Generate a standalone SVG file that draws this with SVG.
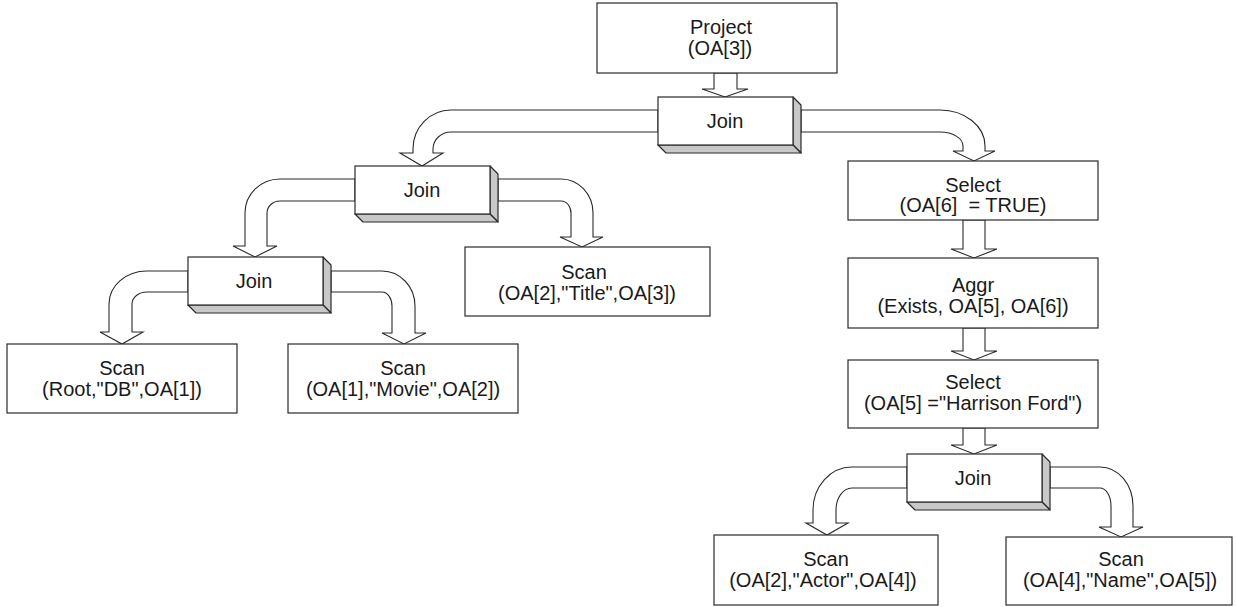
<svg xmlns="http://www.w3.org/2000/svg" width="1236" height="607" viewBox="0 0 1236 607">
<style>
.box{fill:#fff;stroke:#2a2a2a;stroke-width:1.2}
.face{fill:#c8c8c8;stroke:#2a2a2a;stroke-width:1.2;stroke-linejoin:round}
.arr{fill:#fff;stroke:#2a2a2a;stroke-width:1.1;stroke-linejoin:miter}
text{font-family:"Liberation Sans",Arial,sans-serif;font-size:20px;fill:#1a1a1a;text-anchor:middle}
</style>
<rect width="1236" height="607" fill="#fff"/>
<g id="connectors">
  <path class="arr" d="M714,73 L714,89 L702,89 L725,97 L748,89 L737,89 L737,73 Z"/>
  <path class="arr" d="M963,220 L963,249 L951,249 L974,258 L997,249 L985,249 L985,220 Z"/>
  <path class="arr" d="M963,328 L963,351 L951,351 L974,360 L997,351 L985,351 L985,328 Z"/>
  <path class="arr" d="M963,428 L963,445 L951,445 L974,454 L997,445 L985,445 L985,428 Z"/>
  <path class="arr" d="M658,110 L451,110 A38,39 0 0 0 413,149 L413,153 L400,153 L422,166 L443,153 L433,153 L433,149 A18,17 0 0 1 451,132 L658,132 Z"/>
  <path class="arr" d="M801,110 L940,110 A45,36 0 0 1 985,146 L985,151 L995,151 L974,161 L953,151 L963,151 L963,146 A23,14 0 0 0 940,132 L801,132 Z"/>
  <path class="arr" d="M355,179 L280,179 A35,34 0 0 0 245,213 L245,246 L233,246 L255,257 L277,246 L267,246 L267,213 A13,12 0 0 1 280,201 L355,201 Z"/>
  <path class="arr" d="M498,179 L561,179 A32,34 0 0 1 593,213 L593,237 L603,237 L582,247 L560,237 L571,237 L571,213 A10,12 0 0 0 561,201 L498,201 Z"/>
  <path class="arr" d="M188,271 L147,271 A38,33 0 0 0 109,304 L109,332 L100,332 L122,344 L143,332 L132,332 L132,304 A15,12 0 0 1 147,292 L188,292 Z"/>
  <path class="arr" d="M331,271 L382,271 A33,35 0 0 1 415,306 L415,333 L426,333 L404,344 L382,333 L392,333 L392,306 A10,14 0 0 0 382,292 L331,292 Z"/>
  <path class="arr" d="M907,467 L852,467 A39,43 0 0 0 813,510 L813,523 L806,523 L827,535 L848,523 L836,523 L836,510 A16,22 0 0 1 852,488 L907,488 Z"/>
  <path class="arr" d="M1050,467 L1100,467 A33,39 0 0 1 1133,506 L1133,527 L1143,527 L1121,537 L1099,527 L1111,527 L1111,506 A11,18 0 0 0 1100,488 L1050,488 Z"/>
</g>
<g id="project">
  <rect class="box" x="597" y="3" width="240" height="70"/>
  <text x="721" y="34">Project</text>
  <text x="720" y="55">(OA[3])</text>
</g>
<g id="join1">
  <polygon class="face" points="793,97 801,105 801,153 793,145"/>
  <polygon class="face" points="658,145 793,145 801,153 666,153"/>
  <rect class="box" x="658" y="97" width="135" height="48"/>
  <text x="725" y="128">Join</text>
</g>
<g id="join2">
  <polygon class="face" points="490,166 498,174 498,222 490,214"/>
  <polygon class="face" points="355,214 490,214 498,222 363,222"/>
  <rect class="box" x="355" y="166" width="135" height="48"/>
  <text x="422" y="197">Join</text>
</g>
<g id="join3">
  <polygon class="face" points="323,257 331,265 331,313 323,305"/>
  <polygon class="face" points="188,305 323,305 331,313 196,313"/>
  <rect class="box" x="188" y="257" width="135" height="48"/>
  <text x="254" y="288">Join</text>
</g>
<g id="join4">
  <polygon class="face" points="1042,454 1050,462 1050,510 1042,502"/>
  <polygon class="face" points="907,502 1042,502 1050,510 915,510"/>
  <rect class="box" x="907" y="454" width="135" height="48"/>
  <text x="973" y="485">Join</text>
</g>
<g id="select1">
  <rect class="box" x="848" y="161" width="250" height="59"/>
  <text x="973" y="192">Select</text>
  <text x="973" y="212" xml:space="preserve">(OA[6]  = TRUE)</text>
</g>
<g id="aggr">
  <rect class="box" x="848" y="258" width="250" height="70"/>
  <text x="973" y="292">Aggr</text>
  <text x="973" y="313">(Exists, OA[5], OA[6])</text>
</g>
<g id="select2">
  <rect class="box" x="848" y="360" width="250" height="68"/>
  <text x="973" y="389">Select</text>
  <text x="973" y="410">(OA[5] ="Harrison Ford")</text>
</g>
<g id="scan-title">
  <rect class="box" x="465" y="247" width="245" height="69"/>
  <text x="584" y="279">Scan</text>
  <text x="587" y="300">(OA[2],"Title",OA[3])</text>
</g>
<g id="scan-root">
  <rect class="box" x="7" y="344" width="230" height="69"/>
  <text x="122" y="375">Scan</text>
  <text x="122" y="396">(Root,"DB",OA[1])</text>
</g>
<g id="scan-movie">
  <rect class="box" x="288" y="344" width="230" height="69"/>
  <text x="403" y="375">Scan</text>
  <text x="403" y="396">(OA[1],"Movie",OA[2])</text>
</g>
<g id="scan-actor">
  <rect class="box" x="714" y="535" width="224" height="70"/>
  <text x="826" y="566">Scan</text>
  <text x="823" y="587">(OA[2],"Actor",OA[4])</text>
</g>
<g id="scan-name">
  <rect class="box" x="1006" y="537" width="226" height="68"/>
  <text x="1121" y="566">Scan</text>
  <text x="1120" y="587">(OA[4],"Name",OA[5])</text>
</g>
</svg>
